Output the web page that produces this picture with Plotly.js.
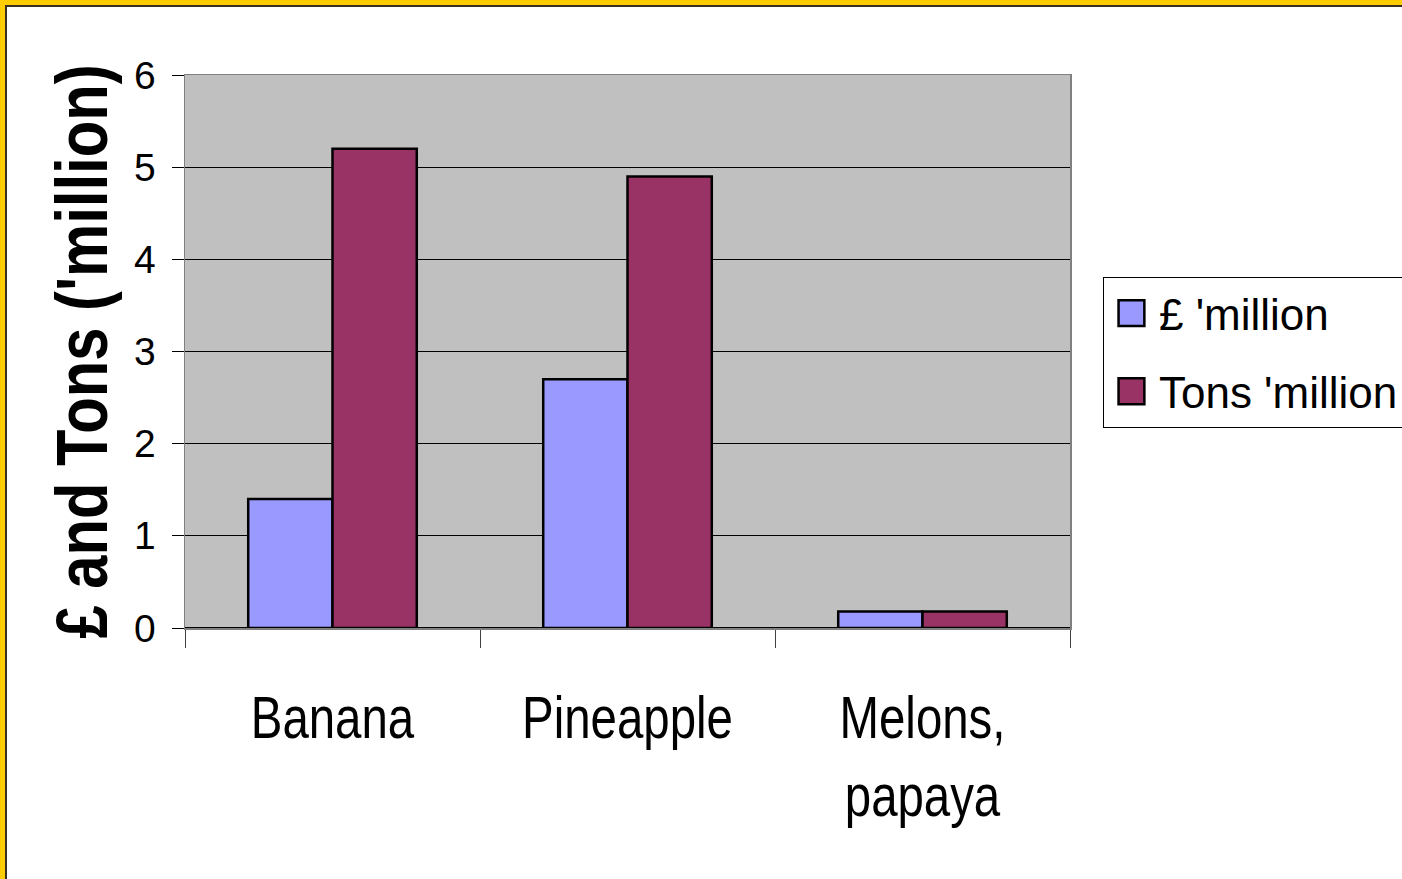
<!DOCTYPE html>
<html>
<head>
<meta charset="utf-8">
<script src="https://cdn.plot.ly/plotly-3.0.1.min.js"></script>
<style>
  html, body { margin: 0; padding: 0; background: #ffffff; overflow: hidden; }
  #wrap { position: relative; width: 1402px; height: 879px; }
  #chart { position: absolute; left: 0; top: 0; width: 1402px; height: 879px; }
  .bt { position: absolute; left: 0; top: 0; width: 1402px; height: 5px; background: #FFCC00; }
  .bt2 { position: absolute; left: 5px; top: 5px; width: 1397px; height: 1.5px; background: #3a3020; }
  .bl { position: absolute; left: 0; top: 0; width: 5px; height: 879px; background: #FFCC00; }
  .bl2 { position: absolute; left: 5px; top: 5px; width: 1.5px; height: 874px; background: #3a3020; }
  .legendpoints path { vector-effect: non-scaling-stroke; }
</style>
</head>
<body>
<div id="wrap">
  <div id="chart"></div>
  <div class="bt"></div><div class="bt2"></div>
  <div class="bl"></div><div class="bl2"></div>
</div>
<script>
// Data
const categories = ["Banana", "Pineapple", "Melons,<br>papaya"];
const poundsMillion = [1.4, 2.7, 0.18];
const tonsMillion = [5.2, 4.9, 0.18];
const seriesNames = ["£ 'million", "Tons 'million"];
const yTickValues = [0, 1, 2, 3, 4, 5, 6];

const sans = "Liberation Sans, Arial, sans-serif";

const traces = [
  {
    type: "bar", name: seriesNames[0], x: categories, y: poundsMillion,
    legendgroup: "a",
    marker: { color: "#9999FF", line: { color: "#000000", width: 2.5 } },
    hoverinfo: "none"
  },
  {
    type: "bar", name: seriesNames[1], x: categories, y: tonsMillion,
    legendgroup: "b",
    marker: { color: "#993366", line: { color: "#000000", width: 2.5 } },
    hoverinfo: "none"
  }
];

const layout = {
  width: 1402, height: 879,
  margin: { l: 185, r: 332, t: 75, b: 251 },
  paper_bgcolor: "#ffffff",
  plot_bgcolor: "#C0C0C0",
  barmode: "group",
  bargap: 0.4286,
  bargroupgap: 0,
  showlegend: true,
  legend: {
    xref: "container", yref: "container",
    x: 0.7867, xanchor: "left",
    y: 0.6849, yanchor: "top",
    bgcolor: "#ffffff", bordercolor: "#000000", borderwidth: 1,
    font: { family: sans, size: 44, color: "#000000" },
    traceorder: "grouped", tracegroupgap: 18,
    itemwidth: 45
  },
  xaxis: {
    type: "category",
    showline: true, linecolor: "#808080", linewidth: 1.5, mirror: true,
    ticks: "outside", tickson: "boundaries", ticklen: 18, tickcolor: "#404040", tickwidth: 1,
    tickfont: { family: sans, size: 60, color: "#000000" },
    ticklabelstandoff: 37,
    showgrid: false, automargin: false, fixedrange: true
  },
  yaxis: {
    range: [0, 6], tickvals: yTickValues,
    showline: true, linecolor: "#808080", linewidth: 1.5, mirror: true,
    ticks: "outside", ticklen: 12, tickcolor: "#000000", tickwidth: 1,
    tickfont: { family: sans, size: 39, color: "#000000" },
    ticklabelstandoff: 8,
    showgrid: true, gridcolor: "#000000", gridwidth: 1,
    zeroline: true, zerolinecolor: "#000000", zerolinewidth: 1.5,
    title: {
      text: "£ and Tons ('million)",
      font: { family: sans, size: 72, color: "#000000", weight: "bold" },
      standoff: 5
    },
    automargin: false, fixedrange: true
  }
};

// Narrow the glyphs along the text direction, like the reference's condensed lettering
function squeeze(sel, s, dx) {
  document.querySelectorAll(sel).forEach(t => {
    const x = parseFloat(t.getAttribute("x") || 0);
    const y = parseFloat(t.getAttribute("y") || 0);
    const tr = t.getAttribute("transform") || "";
    t.setAttribute("transform", "translate(" + (dx || 0) + ",0) " + tr + " translate(" + x + "," + y + ") scale(" + s + ",1) translate(" + (-x) + "," + (-y) + ")");
  });
}

Plotly.newPlot("chart", traces, layout, { displayModeBar: false, staticPlot: true }).then(() => {
  squeeze("#chart .xtick text", 0.79, 0);
  squeeze("#chart .ytitle", 0.83, 0);
  // place the axis title where the reference has it
  const yt = document.querySelector("#chart .ytitle");
  if (yt) {
    const bt = yt.getBoundingClientRect();
    squeeze("#chart .ytitle", 1, 120 - bt.right + 2);
  }
  document.querySelectorAll("#chart .legendpoints path").forEach(p => {
    const tr = p.getAttribute("transform") || "";
    p.setAttribute("transform", tr + " scale(2.15)");
  });
});
</script>
</body>
</html>
